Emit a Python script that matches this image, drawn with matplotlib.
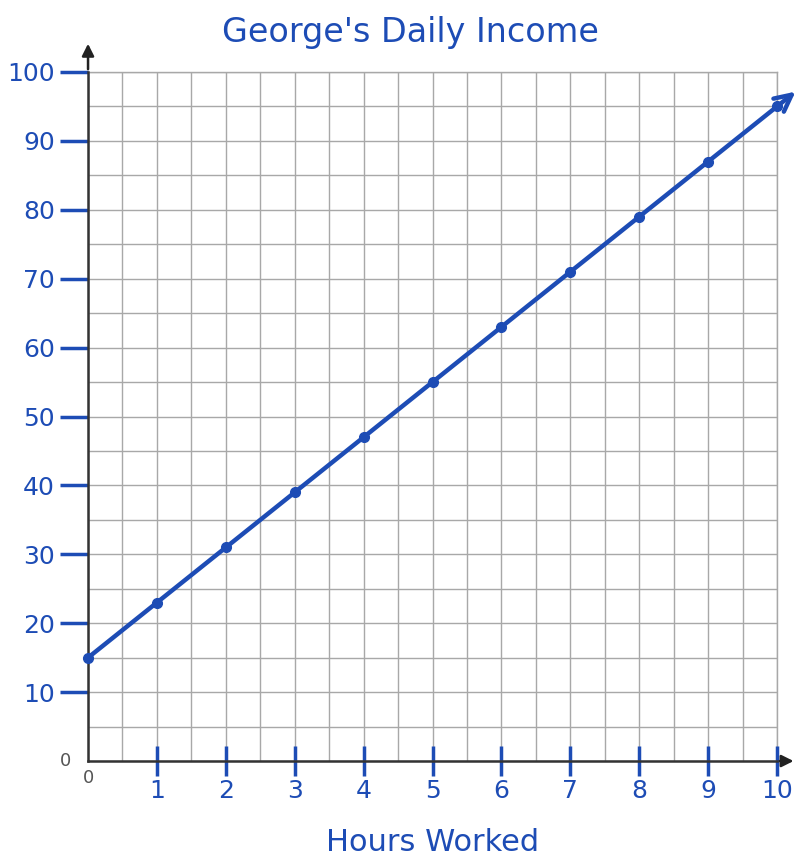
import numpy as np
import matplotlib.pyplot as plt

# George's daily income vs hours worked
hours = [0, 1, 2, 3, 4, 5, 6, 7, 8, 9, 10]
income = [15, 23, 31, 39, 47, 55, 63, 71, 79, 87, 95]
x_ticks = [1, 2, 3, 4, 5, 6, 7, 8, 9, 10]
y_ticks = [10, 20, 30, 40, 50, 60, 70, 80, 90, 100]

blue = "#1d4cb5"
grid_gray = "#a8a8a8"

fig = plt.figure(figsize=(7.96, 8.61), dpi=100)
ax = fig.add_axes([0.1106, 0.1161, 0.8656, 0.8003])

ax.set_xlim(0, 10)
ax.set_ylim(0, 100)

# graph paper grid (half-hour columns, 5-unit rows)
ax.set_xticks(np.arange(0, 10.01, 0.5), minor=True)
ax.set_yticks(np.arange(0, 100.1, 5), minor=True)
ax.grid(True, which="both", color=grid_gray, linewidth=1.0)
ax.set_axisbelow(True)
ax.tick_params(which="minor", length=0)

ax.set_xticks(x_ticks)
ax.set_yticks(y_ticks)
ax.set_xticklabels([str(t) for t in x_ticks])
ax.set_yticklabels([str(t) for t in y_ticks])
ax.tick_params(axis="x", direction="inout", length=22, width=2.5, color=blue,
               labelcolor=blue, labelsize=18, pad=2)
ax.tick_params(axis="y", direction="out", length=20, width=2.5, color=blue,
               labelcolor=blue, labelsize=18, pad=4)
for t in ax.xaxis.get_major_ticks():
    t.tick1line.set_clip_on(False)

# top/right edges look like grid lines, kept under the blue ticks
for side in ["top", "right"]:
    ax.spines[side].set_color(grid_gray)
    ax.spines[side].set_linewidth(1.0)
    ax.spines[side].set_zorder(0.4)
for side in ["left", "bottom"]:
    ax.spines[side].set_color("#333333")
    ax.spines[side].set_linewidth(1.8)

# axis arrows
ax.annotate("", xy=(0, 1.045), xytext=(0, 1.0), xycoords="axes fraction",
            arrowprops=dict(arrowstyle="-|>", color="#222222", lw=1.8, mutation_scale=18),
            annotation_clip=False)
ax.annotate("", xy=(1.028, 0), xytext=(1.0, 0), xycoords="axes fraction",
            arrowprops=dict(arrowstyle="-|>", color="#222222", lw=1.8, mutation_scale=18),
            annotation_clip=False)

# origin zeros
ax.text(-0.025, 0, "0", transform=ax.get_yaxis_transform(), ha="right", va="center",
        color="#555555", fontsize=13)
ax.text(0, -0.012, "0", transform=ax.get_xaxis_transform(), ha="center", va="top",
        color="#555555", fontsize=13)

# income line
ax.plot(hours, income, color=blue, linewidth=3.2, marker="o", markersize=7,
        solid_capstyle="round", clip_on=False, zorder=5)
ax.annotate("", xy=(10.3, 97.4), xytext=(9.95, 94.6), xycoords="data",
            arrowprops=dict(arrowstyle="->", color=blue, lw=3.2, mutation_scale=30),
            annotation_clip=False, zorder=5)

ax.set_xlabel("Hours Worked", color=blue, fontsize=22, labelpad=18)
fig.text(0.515, 0.962, "George's Daily Income", color=blue, fontsize=24,
         ha="center", va="center")

fig.savefig("out.png", dpi=100)
